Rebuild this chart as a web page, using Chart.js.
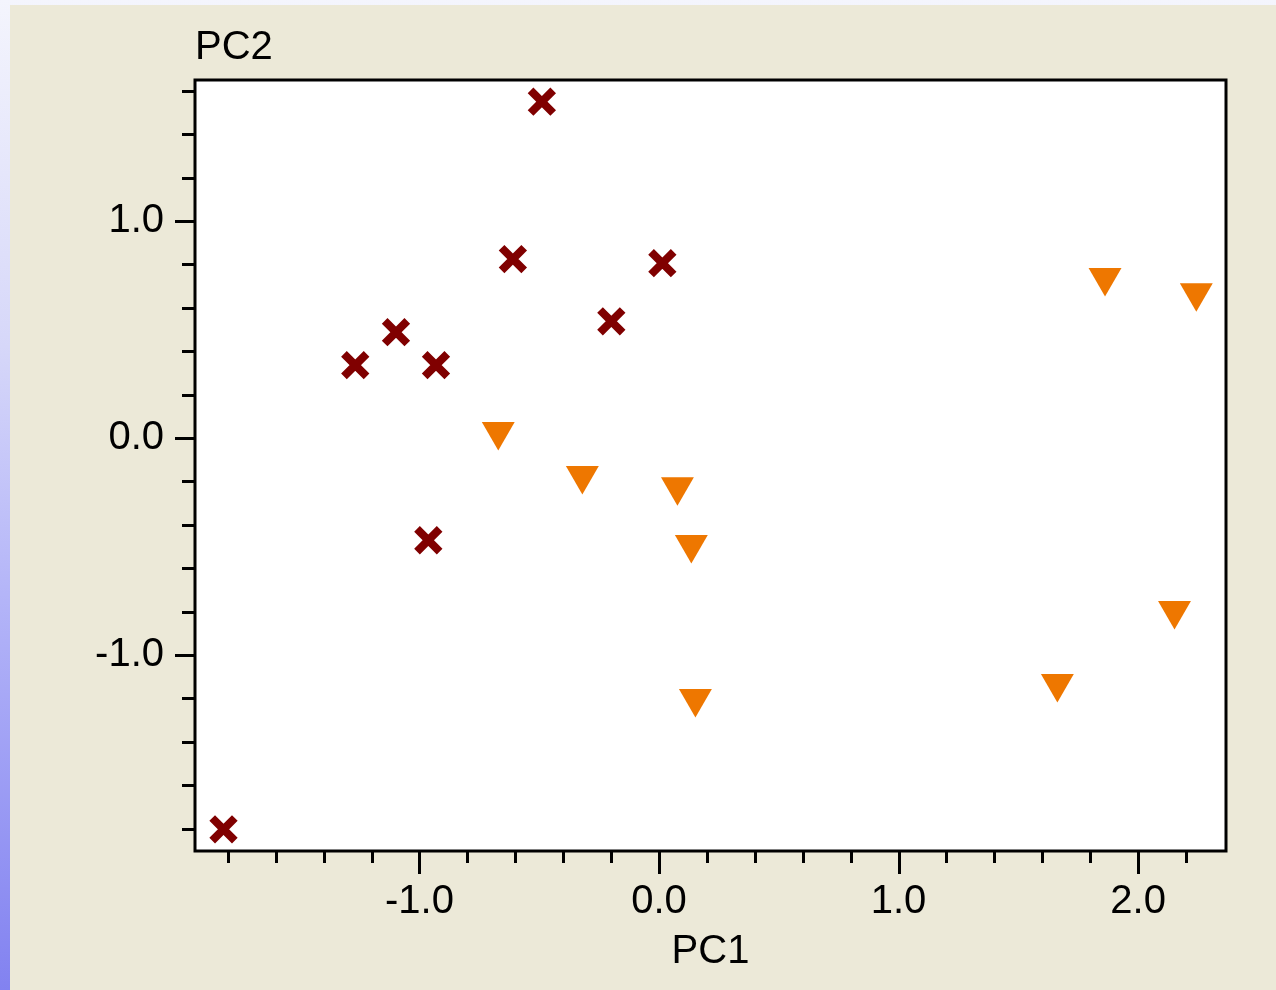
<!DOCTYPE html>
<html><head><meta charset="utf-8">
<script src="https://cdn.jsdelivr.net/npm/chart.js@4/dist/chart.umd.min.js"></script>
<style>
html,body{margin:0;padding:0;width:1276px;height:990px;overflow:hidden;
background:linear-gradient(to bottom,#f4f5fd 0%,#d6d7f9 35%,#b4b5f8 60%,#8282f0 100%);}
#wrap{position:absolute;left:0;top:0;width:1276px;height:990px;}
</style></head><body>
<div id="wrap"><canvas id="c" width="1276" height="990"></canvas></div>
<script>
// Group A (crosses)
const groupA_PC1 = [-0.489, -0.610, 0.014, -0.199, -1.098, -1.268, -0.931, -0.963, -1.818];
const groupA_PC2 = [1.550, 0.825, 0.806, 0.538, 0.488, 0.336, 0.336, -0.471, -1.803];
// Group B (inverted triangles)
const groupB_PC1 = [-0.671, -0.320, 0.077, 0.135, 0.152, 1.862, 2.243, 2.152, 1.663];
const groupB_PC2 = [0.030, -0.173, -0.224, -0.491, -1.200, 0.740, 0.670, -0.795, -1.131];
// Tick positions and labels
const xTickValues = [-1.8,-1.6,-1.4,-1.2,-1.0,-0.8,-0.6,-0.4,-0.2,0.0,0.2,0.4,0.6,0.8,1.0,1.2,1.4,1.6,1.8,2.0,2.2];
const yTickValues = [-1.8,-1.6,-1.4,-1.2,-1.0,-0.8,-0.6,-0.4,-0.2,0.0,0.2,0.4,0.6,0.8,1.0,1.2,1.4,1.6];
const xMajorValues = [-1, 0, 1, 2];
const xMajorLabels = ['-1.0', '0.0', '1.0', '2.0'];
const yMajorValues = [-1, 0, 1];
const yMajorLabels = ['-1.0', '0.0', '1.0'];
const xTitle = 'PC1';
const yTitle = 'PC2';

const FONT = "'Liberation Sans', Arial, sans-serif";
function majorIndex(list, v){ for(let i=0;i<list.length;i++){ if(Math.abs(list[i]-v)<1e-6) return i; } return -1; }

const decor = {
  id: 'decor',
  beforeDraw(chart){
    const ctx = chart.ctx, a = chart.chartArea;
    ctx.save();
    ctx.fillStyle = '#ece9d8';
    ctx.fillRect(10, 5, chart.width - 10, chart.height - 5);
    ctx.fillStyle = '#ffffff';
    ctx.fillRect(a.left, a.top, a.right - a.left, a.bottom - a.top);
    ctx.restore();
  },
  afterDraw(chart){
    const ctx = chart.ctx, a = chart.chartArea;
    const xs = chart.scales.x, ys = chart.scales.y;
    ctx.save();
    ctx.strokeStyle = '#000';
    ctx.lineWidth = 3;
    ctx.strokeRect(a.left, a.top, a.right - a.left, a.bottom - a.top);
    ctx.beginPath();
    xs.ticks.forEach(t => {
      const px = Math.round(xs.getPixelForValue(t.value)) + 0.5;
      const len = majorIndex(xMajorValues, t.value) >= 0 ? 23 : 12;
      ctx.moveTo(px, a.bottom);
      ctx.lineTo(px, a.bottom + len);
    });
    ys.ticks.forEach(t => {
      const py = Math.round(ys.getPixelForValue(t.value)) + 0.5;
      const len = majorIndex(yMajorValues, t.value) >= 0 ? 20 : 13;
      ctx.moveTo(a.left - len, py);
      ctx.lineTo(a.left, py);
    });
    ctx.stroke();
    ctx.fillStyle = '#000';
    ctx.font = '40px ' + FONT;
    ctx.textAlign = 'left';
    ctx.textBaseline = 'alphabetic';
    ctx.fillText(yTitle, a.left, 59);
    ctx.restore();
  }
};

new Chart(document.getElementById('c'), {
  type: 'scatter',
  data: {
    datasets: [
      {
        label: 'A',
        data: groupA_PC1.map((x, i) => ({x: x, y: groupA_PC2[i]})),
        pointStyle: 'crossRot',
        pointRadius: 16,
        pointBorderWidth: 8,
        borderColor: '#800000',
        backgroundColor: '#800000'
      },
      {
        label: 'B',
        data: groupB_PC1.map((x, i) => ({x: x, y: groupB_PC2[i]})),
        pointStyle: 'triangle',
        pointRotation: 180,
        pointRadius: 19,
        pointBorderWidth: 0,
        borderColor: '#ee7700',
        backgroundColor: '#ee7700'
      }
    ]
  },
  options: {
    responsive: false,
    animation: false,
    devicePixelRatio: 1,
    layout: {padding: {left: 0, top: 80, right: 50, bottom: 0}},
    plugins: {legend: {display: false}, tooltip: {enabled: false}, title: {display: false}},
    scales: {
      x: {
        type: 'linear',
        min: -1.937, max: 2.367,
        afterBuildTicks: s => { s.ticks = xTickValues.map(v => ({value: v})); },
        afterFit: s => { s.height = 139; },
        grid: {display: false, drawTicks: false},
        border: {display: false},
        ticks: {
          autoSkip: false, maxRotation: 0, padding: 27,
          color: '#000', font: {family: FONT, size: 40},
          callback: v => { const i = majorIndex(xMajorValues, v); return i >= 0 ? xMajorLabels[i] : ''; }
        },
        title: {display: true, text: xTitle, color: '#000', font: {family: FONT, size: 40}, padding: {top: 0, bottom: 14}}
      },
      y: {
        type: 'linear',
        min: -1.903, max: 1.650,
        afterBuildTicks: s => { s.ticks = yTickValues.map(v => ({value: v})); },
        afterFit: s => { s.width = 195; },
        grid: {display: false, drawTicks: false},
        border: {display: false},
        ticks: {
          autoSkip: false, padding: 31,
          color: '#000', font: {family: FONT, size: 40},
          callback: v => { const i = majorIndex(yMajorValues, v); return i >= 0 ? yMajorLabels[i] : ''; }
        }
      }
    }
  },
  plugins: [decor]
});
</script>
</body></html>
